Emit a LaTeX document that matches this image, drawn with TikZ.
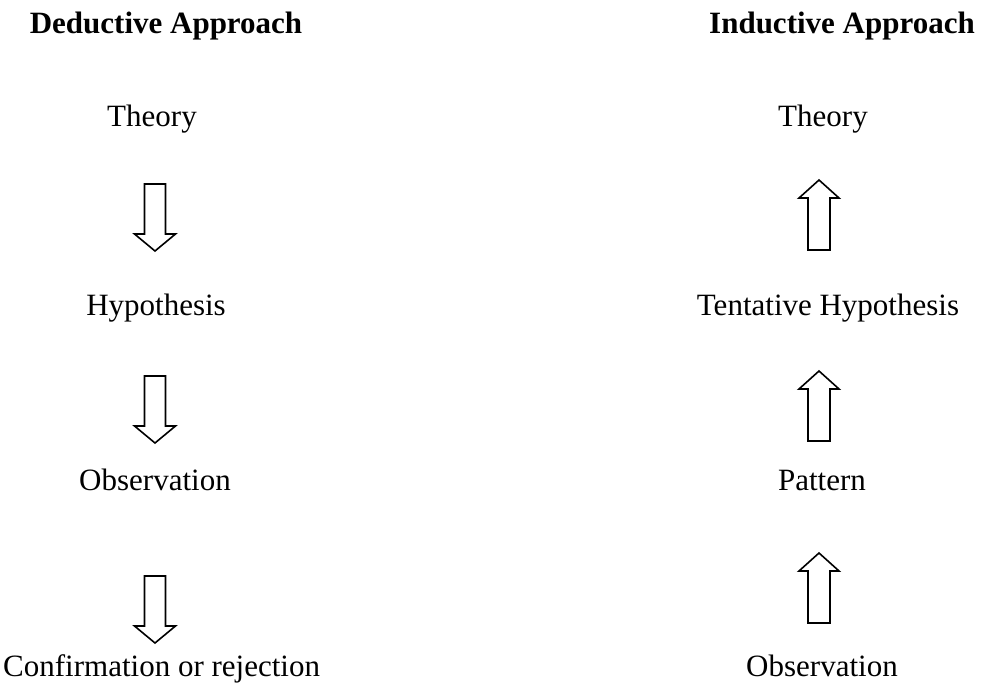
\documentclass[tikz,border=0pt]{standalone}
\usepackage{fontspec}
\setmainfont{Liberation Serif}
\tikzset{
  lbl/.style={inner sep=0pt, anchor=base, font=\fontsize{31}{36}\selectfont},
  hdr/.style={inner sep=0pt, anchor=base, font=\fontsize{31}{36}\selectfont\bfseries},
  blockarrow/.style={draw=black, line width=1.6pt, fill=white, line join=miter}
}
% down block arrow: centre x, top y (y grows downward)
\newcommand\DownBlock[2]{\draw[blockarrow] (#1-10.5,#2) -- (#1+10.5,#2) -- (#1+10.5,#2+50) -- (#1+20.5,#2+50) -- (#1,#2+67) -- (#1-20.5,#2+50) -- (#1-10.5,#2+50) -- cycle;}
% up block arrow: centre x, tip y
\newcommand\UpBlock[2]{\draw[blockarrow] (#1,#2) -- (#1+20,#2+18) -- (#1+11,#2+18) -- (#1+11,#2+70) -- (#1-11,#2+70) -- (#1-11,#2+18) -- (#1-20,#2+18) -- cycle;}
\begin{document}
\begin{tikzpicture}[x=1pt,y=-1pt]
\useasboundingbox (0,0) rectangle (986,688);
% headers
\node[hdr] (dh) at (166,34) {Deductive Approach};
\node[hdr] (ih) at (842,34) {Inductive Approach};
% left column
\node[lbl] (lt) at (152,126) {Theory};
\node[lbl] (lh) at (156,315) {Hypothesis};
\node[lbl] (lo) at (155,490) {Observation};
\node[lbl, anchor=base west] (lc) at (3,676) {Confirmation or rejection};
\DownBlock{155}{184}
\DownBlock{155}{376}
\DownBlock{155}{576}
% right column
\node[lbl] (rt) at (823,126) {Theory};
\node[lbl] (rh) at (828,315) {Tentative Hypothesis};
\node[lbl] (rp) at (822,490) {Pattern};
\node[lbl] (ro) at (822,676) {Observation};
\UpBlock{819}{180}
\UpBlock{819}{371}
\UpBlock{819}{553}
\end{tikzpicture}
\end{document}
